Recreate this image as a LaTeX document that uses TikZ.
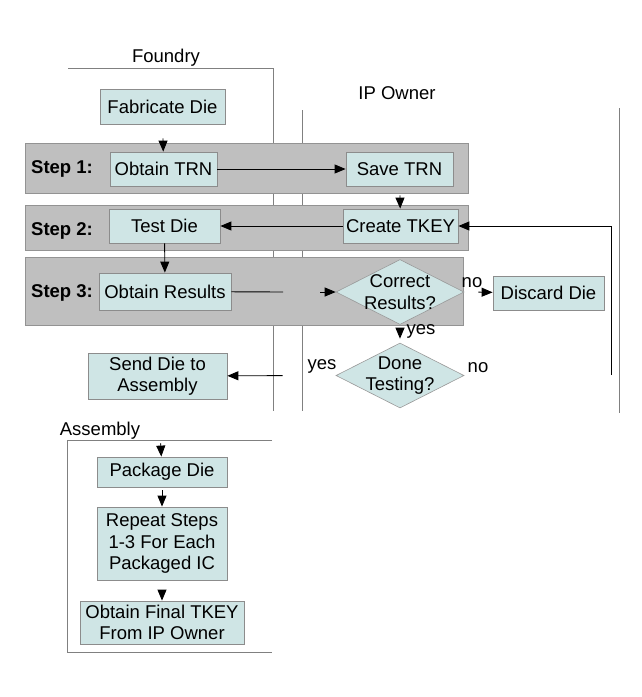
\documentclass[tikz,border=0pt]{standalone}
\usepackage{fontspec}
\setmainfont{Liberation Sans}
\usetikzlibrary{arrows.meta,shapes.geometric}
\definecolor{taskcol}{RGB}{207,229,229}
\begin{document}
\begin{tikzpicture}[x=1pt,y=-1pt,
	font=\fontsize{18.5}{21.5}\selectfont,
	lane/.style={draw=gray, line width=0.8pt},
	band/.style={draw=gray!85, fill=gray!50, line width=0.6pt},
	task/.style={draw=gray!90, fill=taskcol, align=center, inner sep=0pt, line width=0.8pt},
	decision/.style={diamond, draw=gray!80, fill=taskcol, inner sep=0pt, line width=0.6pt,
		minimum width=128pt, minimum height=65pt},
	arr/.style={-{Triangle[length=11pt,width=9pt]}, line width=0.9pt}]
\useasboundingbox (0,0) rectangle (641,697);

% swim lanes
\draw[lane] (68,68) -- (273,68) -- (273,411);
\draw[lane] (302,110) -- (302,411);
\draw[lane] (619,108) -- (619,413);
\draw[lane] (272,440) -- (67,440) -- (67,652) -- (272,652);
\node (foundry) at (166,58) {Foundry};
\node (owner) at (397,93) {IP Owner};
\node (assembly) at (100,431) {Assembly};

% steps
\draw[band] (25,143) rectangle (468,193);
\draw[band] (25,205) rectangle (468,250);
\draw[band] (25,257) rectangle (463,325);
\foreach \s/\y in {1/169,2/231,3/293} {
	\node[font=\fontsize{18.5}{21.5}\selectfont\bfseries] (step\s) at (62,\y) {Step \s:};
}

% foundry
\node[task, minimum width=125pt, minimum height=35pt] (fab) at (162.5,106.5) {Fabricate Die};
\node[task, minimum width=107pt, minimum height=34pt] (trn) at (163.5,169) {Obtain TRN};
\node[task, minimum width=111pt, minimum height=34pt] (test) at (164.5,226) {Test Die};
\node[task, minimum width=132pt, minimum height=37pt] (results) at (165,291.5) {Obtain Results};
\node[task, minimum width=139pt, minimum height=46pt] (send) at (157.5,376) {Send Die to\\Assembly};

% ip owner
\node[task, minimum width=107pt, minimum height=34pt] (save) at (399.5,169) {Save TRN};
\node[task, minimum width=115pt, minimum height=34pt] (tkey) at (400.5,226) {Create TKEY};
\node[decision, label={[align=center]center:Correct\\Results?}] (correct) at (400,292) {};
\node[task, minimum width=111pt, minimum height=34pt] (discard) at (548.5,293) {Discard Die};
\node[decision, label={[align=center]center:Done\\Testing?}] (done) at (400,375.5) {};

% assembly
\node[task, minimum width=130pt, minimum height=30pt] (pack) at (162,472) {Package Die};
\node[task, minimum width=130pt, minimum height=73pt] (repeat) at (162,543.5) {Repeat Steps\\1-3 For Each\\Packaged IC};
\node[task, minimum width=164pt, minimum height=43pt] (final) at (162,622.5) {Obtain Final TKEY\\From IP Owner};

% flow
\coordinate (gapl) at (283,292);
\coordinate (gapr) at (320,292);
\coordinate (loop) at (611,375);
\draw[arr, shorten <=14pt] (fab) -- (trn);
\draw[arr] (trn) -- (save);
\draw[arr, shorten <=9pt] (save) -- (tkey);
\draw[arr] (tkey) -- (test);
\draw[arr] (test) -- (results);
\draw[line width=0.9pt] (results) -- (gapl);
\draw[arr] (gapr) -- (correct.west);
\draw[arr, shorten <=14pt] (correct.east) -- (discard);
\draw[arr, shorten <=5pt, shorten >=4pt] (correct) -- (done);
\draw[arr, shorten <=53pt] (done.west) -- (send);
\draw[arr] (loop) |- (tkey);
\draw[arr, shorten <=44pt] (send) -- (pack);
\draw[arr, shorten <=3pt] (pack) -- (repeat);
\draw[arr, shorten <=10pt] (repeat) -- (final);

\node (no1) at (472,283) {no};
\node (no2) at (478,368) {no};
\node (yes1) at (421,331) {yes};
\node (yes2) at (322,366) {yes};
\end{tikzpicture}
\end{document}
